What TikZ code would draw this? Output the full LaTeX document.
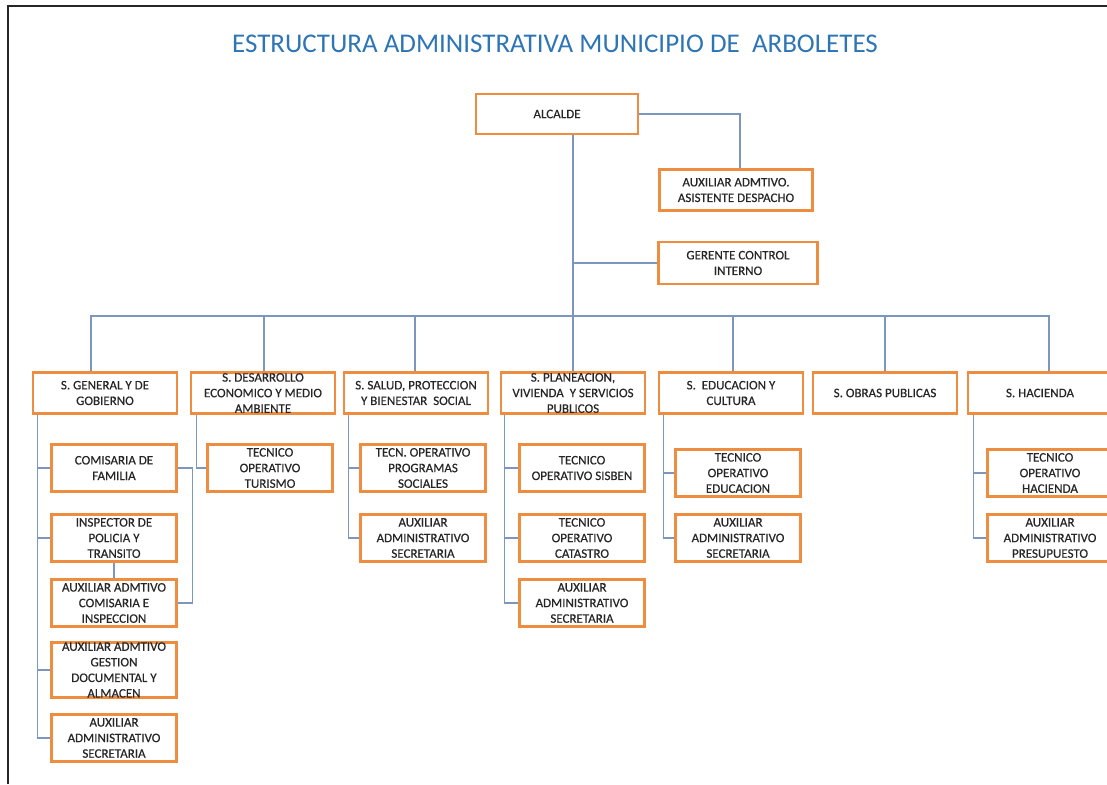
\documentclass[tikz,border=0pt]{standalone}
\usepackage{fontspec}
\setmainfont{Carlito}
\newfontfamily\cajafont{Carlito}[FakeBold=0.4]

\definecolor{naranja}{RGB}{238,141,64}
\definecolor{linea}{RGB}{124,151,189}
\definecolor{azultit}{RGB}{46,117,182}

\begin{document}
\begin{tikzpicture}[
  cargo/.style={draw=naranja,line width=2.5pt,fill=white,align=center,inner sep=0pt,
    text=black!85,font=\cajafont\fontsize{13}{15.6}\selectfont},
  secre/.style={cargo,minimum width=144pt,minimum height=41pt},
  puesto/.style={cargo,minimum width=125pt,minimum height=47pt},
  enlace/.style={draw=linea,line width=1.2pt}]
  \begin{scope}[x=1pt,y=-1pt]
   \useasboundingbox (0,0) rectangle (1107,784);
   \clip (0,0) rectangle (1107,784);
   \draw[line width=2pt,black!85] (8,784) -- (8,6) -- (1107,6);
   \node[text=azultit,font=\fontsize{27}{31}\selectfont] (titulo) at (555,44)
     {ESTRUCTURA ADMINISTRATIVA MUNICIPIO DE~~ARBOLETES};

   \node[cargo,minimum width=162pt,minimum height=40pt] (alcalde) at (557,114) {ALCALDE};
   \node[cargo,minimum width=153pt,minimum height=41pt] (asist) at (736,190) {AUXILIAR ADMTIVO.\\ASISTENTE DESPACHO};
   \node[cargo,minimum width=159pt,minimum height=42pt] (gerente) at (738,263) {GERENTE CONTROL\\INTERNO};

   \node[secre] (sgen) at (105,393) {S. GENERAL Y DE\\GOBIERNO};
   \node[secre] (sdes) at (263,393) {S. DESARROLLO\\ECONOMICO Y MEDIO\\AMBIENTE};
   \node[secre] (ssal) at (416,393) {S. SALUD, PROTECCION\\Y BIENESTAR~~SOCIAL};
   \node[secre] (spla) at (573,393) {S. PLANEACION,\\VIVIENDA~~Y SERVICIOS\\PUBLICOS};
   \node[secre] (sedu) at (731,393) {S.~~EDUCACION Y\\CULTURA};
   \node[secre] (sobr) at (885,393) {S. OBRAS PUBLICAS};
   \node[secre] (shac) at (1040,393) {S. HACIENDA};

   \node[puesto] (com) at (114,468) {COMISARIA DE\\FAMILIA};
   \node[puesto] (insp) at (114,538) {INSPECTOR DE\\POLICIA Y\\TRANSITO};
   \node[puesto] (auxci) at (114,603) {AUXILIAR ADMTIVO\\COMISARIA E\\INSPECCION};
   \node[puesto,minimum height=53pt] (auxgd) at (114,670) {AUXILIAR ADMTIVO\\GESTION\\DOCUMENTAL Y\\ALMACEN};
   \node[puesto] (sec1) at (114,738) {AUXILIAR\\ADMINISTRATIVO\\SECRETARIA};

   \node[puesto] (tur) at (270,468) {TECNICO\\OPERATIVO\\TURISMO};

   \node[puesto] (prog) at (423,468) {TECN. OPERATIVO\\PROGRAMAS\\SOCIALES};
   \node[puesto] (sec3) at (423,538) {AUXILIAR\\ADMINISTRATIVO\\SECRETARIA};

   \node[puesto] (sisb) at (582,468) {TECNICO\\OPERATIVO SISBEN};
   \node[puesto] (cat) at (582,538) {TECNICO\\OPERATIVO\\CATASTRO};
   \node[puesto] (sec4) at (582,603) {AUXILIAR\\ADMINISTRATIVO\\SECRETARIA};

   \node[puesto] (tedu) at (738,473) {TECNICO\\OPERATIVO\\EDUCACION};
   \node[puesto] (sec5) at (738,538) {AUXILIAR\\ADMINISTRATIVO\\SECRETARIA};

   \node[puesto] (thac) at (1050,473) {TECNICO\\OPERATIVO\\HACIENDA};
   \node[puesto] (pres) at (1050,538) {AUXILIAR\\ADMINISTRATIVO\\PRESUPUESTO};

   \coordinate (bus) at (573,316);
   \draw[enlace] (alcalde.east) -| ([xshift=4pt]asist.north);
   \draw[enlace] (alcalde.south -| bus) -- (spla.north);
   \draw[enlace] (gerente.west) -- (gerente.west -| bus);
   \foreach \s/\d in {sgen/-14,sdes/1,ssal/-1,spla/0,sedu/2,sobr/0,shac/9}
     \draw[enlace] ([xshift=\d pt]\s.north) |- (bus);

   \foreach \p in {com,insp,auxgd,sec1}
     \draw[enlace] ([xshift=6pt]sgen.south west) |- (\p.west);
   \draw[enlace] (insp.south) -- (auxci.north);
   \draw[enlace] (com.east) -- ++(15,0) |- (auxci.east);
   \draw[enlace] ([xshift=7pt]sdes.south west) |- (tur.west);
   \foreach \p in {prog,sec3}
     \draw[enlace] ([xshift=6pt]ssal.south west) |- (\p.west);
   \foreach \p in {sisb,cat,sec4}
     \draw[enlace] ([xshift=5pt]spla.south west) |- (\p.west);
   \foreach \p in {tedu,sec5}
     \draw[enlace] ([xshift=6pt]sedu.south west) |- (\p.west);
   \foreach \p in {thac,pres}
     \draw[enlace] ([xshift=7pt]shac.south west) |- (\p.west);
  \end{scope}
\end{tikzpicture}
\end{document}
